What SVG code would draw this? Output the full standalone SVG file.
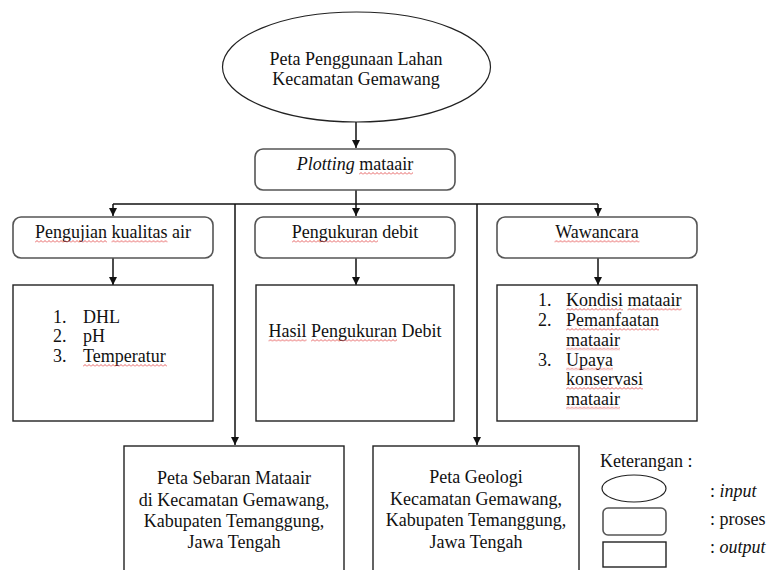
<svg xmlns="http://www.w3.org/2000/svg" width="769" height="570" viewBox="0 0 769 570">
<style>
text{font-family:"Liberation Serif","Times New Roman",serif;font-size:18px;fill:#111}
.c{text-anchor:middle}
.in{fill:#fff;stroke:#222;stroke-width:1.2}
.pr{fill:#fff;stroke:#555;stroke-width:1.6}
.out{fill:#fff;stroke:#222;stroke-width:1.4}
.ln{fill:none;stroke:#111;stroke-width:1.5}
.wv{fill:url(#wave)}
</style>
<defs>
<marker id="ah" viewBox="0 0 10 10" refX="10" refY="5" markerWidth="8" markerHeight="8" markerUnits="userSpaceOnUse" orient="auto">
<path d="M0,0 L10,5 L0,10 z" fill="#111"/>
</marker>
<pattern id="wave" patternUnits="userSpaceOnUse" width="4" height="3">
<path d="M-1,2 L0,2.5 L2,0.5 L4,2.5 L5,2" fill="none" stroke="#e03a3a" stroke-width="0.8"/>
</pattern>
</defs>
<rect width="769" height="570" fill="#fff"/>
<g id="connectors">
<path class="ln" d="M356,122 V148" marker-end="url(#ah)"/>
<path class="ln" d="M113,204 H598"/>
<path class="ln" d="M356,190 V216" marker-end="url(#ah)"/>
<path class="ln" d="M113,204 V216" marker-end="url(#ah)"/>
<path class="ln" d="M598,204 V216" marker-end="url(#ah)"/>
<path class="ln" d="M113,258 V285" marker-end="url(#ah)"/>
<path class="ln" d="M356,258 V285" marker-end="url(#ah)"/>
<path class="ln" d="M598,258 V285" marker-end="url(#ah)"/>
<path class="ln" d="M235,204 V445" marker-end="url(#ah)"/>
<path class="ln" d="M477,204 V445" marker-end="url(#ah)"/>
</g>
<g id="input-peta-penggunaan-lahan">
<ellipse class="in" cx="356.5" cy="67" rx="134" ry="55"/>
<text class="c" x="356" y="65">Peta Penggunaan Lahan</text>
<text class="c" x="356" y="85">Kecamatan Gemawang</text>
</g>
<g id="proses-plotting">
<rect class="pr" x="255" y="149" width="200" height="41" rx="8"/>
<text class="c" x="355" y="170"><tspan font-style="italic">Plotting</tspan> mataair</text>
<rect class="wv" transform="translate(359,172)" width="54" height="3"/>
</g>
<g id="proses-pengujian">
<rect class="pr" x="13" y="217" width="200" height="41" rx="8"/>
<text class="c" x="113" y="238">Pengujian kualitas air</text>
<rect class="wv" transform="translate(35,240)" width="72" height="3"/>
<rect class="wv" transform="translate(111.5,240)" width="56" height="3"/>
</g>
<g id="proses-pengukuran">
<rect class="pr" x="255" y="217" width="200" height="41" rx="8"/>
<text class="c" x="355" y="238">Pengukuran debit</text>
<rect class="wv" transform="translate(292,240)" width="86" height="3"/>
</g>
<g id="proses-wawancara">
<rect class="pr" x="497" y="217" width="200" height="41" rx="8"/>
<text class="c" x="597" y="238">Wawancara</text>
<rect class="wv" transform="translate(554.5,240)" width="85" height="3"/>
</g>
<g id="output-kualitas">
<rect class="out" x="13" y="285" width="200" height="136"/>
<text x="53" y="323">1.</text><text x="83" y="323">DHL</text>
<text x="53" y="342">2.</text><text x="83" y="342">pH</text>
<text x="53" y="362">3.</text><text x="83" y="362">Temperatur</text>
<rect class="wv" transform="translate(83,364)" width="84" height="3"/>
</g>
<g id="output-debit">
<rect class="out" x="256" y="285" width="198" height="136"/>
<text class="c" x="355" y="337">Hasil Pengukuran Debit</text>
<rect class="wv" transform="translate(268.5,339)" width="38" height="3"/>
<rect class="wv" transform="translate(311,339)" width="86" height="3"/>
</g>
<g id="output-wawancara">
<rect class="out" x="497" y="285" width="200" height="136"/>
<text x="538" y="306">1.</text><text x="566" y="306">Kondisi mataair</text>
<text x="538" y="326">2.</text><text x="566" y="326">Pemanfaatan</text>
<text x="566" y="345.5">mataair</text>
<text x="538" y="365.5">3.</text><text x="566" y="365.5">Upaya</text>
<text x="566" y="385">konservasi</text>
<text x="566" y="404.5">mataair</text>
<rect class="wv" transform="translate(566,308)" width="57" height="3"/>
<rect class="wv" transform="translate(627.5,308)" width="54" height="3"/>
<rect class="wv" transform="translate(566,328)" width="93" height="3"/>
<rect class="wv" transform="translate(566,347.5)" width="54" height="3"/>
<rect class="wv" transform="translate(566,367.5)" width="47" height="3"/>
<rect class="wv" transform="translate(566,387)" width="77" height="3"/>
<rect class="wv" transform="translate(566,406.5)" width="54" height="3"/>
</g>
<g id="output-peta-sebaran">
<rect class="out" x="124" y="446" width="220" height="140"/>
<text class="c" x="234" y="484">Peta Sebaran Mataair</text>
<text class="c" x="234" y="505.5">di Kecamatan Gemawang,</text>
<text class="c" x="234" y="527">Kabupaten Temanggung,</text>
<text class="c" x="234" y="548">Jawa Tengah</text>
</g>
<g id="output-peta-geologi">
<rect class="out" x="373" y="446" width="206" height="140"/>
<text class="c" x="476" y="483">Peta Geologi</text>
<text class="c" x="476" y="505">Kecamatan Gemawang,</text>
<text class="c" x="476" y="526">Kabupaten Temanggung,</text>
<text class="c" x="476" y="548">Jawa Tengah</text>
</g>
<g id="legend">
<text x="600" y="467">Keterangan :</text>
<ellipse class="in" cx="634" cy="488.5" rx="32" ry="13.5"/>
<rect class="pr" x="603" y="508" width="63" height="27" rx="5" stroke-width="1.2"/>
<rect class="out" x="603" y="542" width="63" height="25" stroke-width="1.2"/>
<text x="710" y="497">: <tspan font-style="italic">input</tspan></text>
<text x="710" y="525">: proses</text>
<text x="710" y="553">: <tspan font-style="italic">output</tspan></text>
</g>
</svg>
